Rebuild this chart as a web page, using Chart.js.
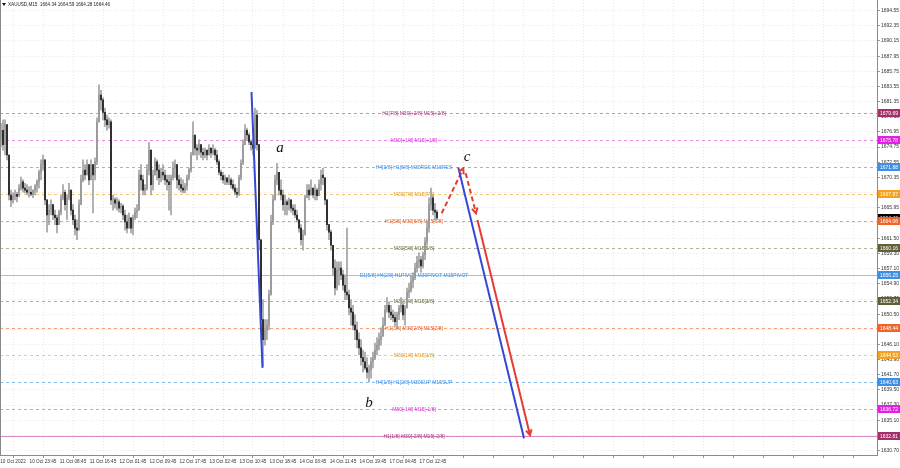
<!DOCTYPE html>
<html>
<head>
<meta charset="utf-8">
<script src="https://cdn.jsdelivr.net/npm/chart.js@4.4.0/dist/chart.umd.min.js"></script>
<style>
  html, body { margin: 0; padding: 0; background: #fff; }
  #wrap { width: 900px; height: 468px; }
</style>
</head>
<body>
<div id="wrap"><canvas id="graph" width="900" height="468"></canvas></div>
<script>
// XAUUSD M15 - price, one slot = about two M15 bars
const highs = [
  1678.2,1678.7,1678.7,1678.0,1673.6,1668.5,1668.1,1668.5,1668.2,1669.3,
  1670.4,1670.0,1669.5,1669.3,1669.0,1669.1,1668.5,1669.3,1670.0,1671.4,
  1672.9,1673.6,1672.9,1667.1,1666.4,1667.1,1666.4,1665.6,1664.9,1665.6,
  1667.8,1669.3,1668.5,1667.8,1669.5,1668.5,1666.4,1664.9,1664.2,1667.1,
  1670.7,1672.9,1672.2,1672.9,1672.2,1672.9,1672.2,1673.2,1679.0,1683.8,
  1683.0,1681.9,1680.4,1679.4,1679.0,1678.7,1667.8,1667.4,1667.4,1667.1,
  1666.6,1666.4,1665.6,1664.9,1665.2,1664.5,1664.9,1665.9,1666.4,1671.4,
  1672.2,1670.7,1669.3,1672.2,1675.4,1674.3,1671.4,1673.2,1672.9,1672.2,
  1671.7,1672.2,1671.4,1670.7,1670.7,1670.7,1672.6,1672.9,1672.2,1670.7,
  1670.3,1670.0,1669.5,1670.7,1671.7,1674.0,1678.4,1676.5,1675.1,1675.8,
  1675.1,1674.6,1674.6,1674.3,1675.1,1674.6,1675.1,1674.6,1674.3,1672.9,
  1671.4,1671.1,1670.7,1670.3,1670.7,1670.3,1670.0,1669.3,1668.8,1670.7,
  1672.9,1675.8,1678.0,1677.5,1676.8,1675.8,1675.8,1680.4,1680.1,1675.1,
  1661.3,1652.6,1649.7,1649.7,1654.0,1664.9,1667.8,1670.7,1672.4,1671.1,
  1670.0,1668.5,1667.8,1667.1,1667.4,1667.1,1666.4,1666.4,1665.6,1664.2,
  1663.5,1662.7,1667.8,1669.3,1669.3,1670.0,1668.8,1669.3,1668.8,1670.0,
  1671.4,1671.7,1670.3,1667.1,1663.5,1662.7,1660.5,1658.4,1658.1,1658.1,
  1658.1,1656.9,1656.2,1663.0,1654.0,1652.6,1651.8,1650.4,1649.4,1647.8,
  1646.8,1645.3,1645.0,1644.2,1643.1,1644.2,1645.0,1646.3,1647.1,1647.8,
  1648.5,1650.0,1651.8,1652.9,1652.3,1651.8,1651.1,1650.8,1650.8,1651.8,
  1652.9,1652.1,1651.8,1654.3,1655.0,1656.1,1656.5,1657.9,1658.9,1659.4,
  1658.9,1659.5,1661.6,1663.9,1667.4,1668.8,1667.8,1666.6,1665.6
];
const lows = [
  1674.8,1674.3,1673.6,1672.9,1667.1,1666.1,1666.6,1667.1,1666.8,1667.7,
  1668.5,1668.2,1668.1,1667.8,1667.5,1667.7,1667.4,1667.8,1668.2,1668.8,
  1670.0,1671.4,1666.4,1662.4,1663.5,1664.9,1664.2,1663.5,1662.3,1663.5,
  1664.9,1667.1,1665.6,1664.2,1667.1,1664.9,1663.5,1662.0,1661.3,1663.0,
  1666.4,1669.7,1670.0,1670.7,1669.3,1670.3,1665.2,1670.0,1672.2,1678.4,
  1680.1,1678.7,1677.7,1677.2,1677.5,1666.4,1665.6,1665.9,1665.6,1665.3,
  1665.2,1664.2,1662.7,1662.3,1663.0,1662.3,1662.0,1664.2,1664.5,1665.6,
  1668.5,1667.8,1667.8,1668.5,1670.7,1667.8,1668.5,1670.7,1670.0,1669.3,
  1669.7,1670.0,1669.3,1668.5,1665.6,1664.9,1670.0,1670.3,1668.8,1668.5,
  1668.2,1668.1,1668.1,1668.5,1670.0,1671.1,1673.6,1673.6,1672.9,1673.6,
  1673.2,1672.9,1673.2,1672.9,1673.6,1673.2,1673.6,1672.9,1672.2,1670.7,
  1670.0,1669.5,1669.3,1669.3,1669.3,1668.8,1668.5,1667.8,1667.4,1667.7,
  1670.0,1672.2,1675.1,1675.8,1675.1,1674.3,1673.6,1674.6,1674.3,1659.8,
  1648.2,1642.9,1646.0,1646.8,1648.2,1653.3,1663.5,1667.1,1669.3,1667.8,
  1667.1,1665.6,1664.9,1664.9,1665.6,1665.3,1664.9,1664.5,1663.9,1662.4,
  1660.5,1659.8,1662.0,1667.4,1667.1,1667.8,1667.4,1667.1,1667.1,1667.7,
  1668.5,1669.3,1666.4,1662.7,1661.3,1659.8,1656.2,1653.3,1654.0,1654.7,
  1655.5,1654.0,1652.6,1652.6,1650.4,1648.9,1648.2,1646.8,1645.6,1644.6,
  1643.1,1642.1,1642.4,1641.2,1640.7,1641.2,1642.7,1643.9,1644.6,1645.3,
  1646.0,1647.3,1648.9,1650.8,1650.0,1649.7,1649.4,1648.8,1648.5,1649.7,
  1650.8,1649.7,1648.9,1651.4,1652.9,1653.7,1654.3,1655.5,1656.6,1657.2,
  1656.6,1657.2,1658.4,1660.5,1662.4,1665.6,1664.9,1664.2,1664.2
];
const closes = [
  1677.2,1675.1,1678.0,1673.6,1667.8,1667.1,1667.6,1667.9,1667.6,1668.8,
  1669.7,1668.8,1668.5,1668.2,1668.2,1667.9,1668.5,1669.1,1669.7,1671.1,
  1672.2,1672.9,1667.1,1664.9,1665.6,1666.4,1664.9,1664.5,1663.5,1665.3,
  1667.4,1668.2,1666.4,1667.4,1668.5,1665.6,1664.2,1663.0,1662.7,1666.4,
  1670.0,1671.4,1670.7,1672.2,1670.0,1672.2,1670.7,1672.6,1678.4,1682.3,
  1681.6,1679.8,1678.7,1678.0,1678.4,1667.1,1667.1,1666.6,1666.8,1665.9,
  1666.2,1664.9,1663.9,1663.0,1664.5,1663.0,1664.5,1665.3,1665.6,1670.7,
  1670.0,1668.5,1668.8,1671.4,1674.3,1669.3,1670.7,1672.6,1671.4,1670.3,
  1671.1,1670.7,1670.0,1669.7,1669.3,1670.3,1671.7,1672.2,1670.0,1669.3,
  1668.8,1668.5,1669.1,1670.3,1671.4,1673.6,1676.5,1674.6,1674.3,1675.1,
  1674.0,1673.6,1674.3,1673.6,1674.6,1673.9,1674.3,1673.6,1672.6,1671.1,
  1670.6,1670.0,1670.3,1669.7,1670.0,1669.3,1668.8,1668.2,1667.9,1670.3,
  1672.4,1675.1,1677.2,1676.5,1675.5,1675.1,1674.6,1679.4,1675.1,1661.3,
  1649.7,1646.8,1648.2,1648.9,1653.3,1663.9,1667.1,1670.0,1671.1,1668.5,
  1667.8,1666.4,1666.8,1666.4,1667.1,1665.9,1665.6,1664.9,1664.2,1663.0,
  1661.3,1662.0,1667.4,1668.5,1667.8,1668.8,1667.8,1668.5,1667.7,1669.4,
  1670.7,1670.3,1667.1,1663.5,1662.4,1660.5,1657.2,1654.3,1656.9,1657.2,
  1656.2,1654.7,1653.7,1653.3,1651.4,1650.8,1648.9,1648.2,1646.8,1645.6,
  1644.2,1643.6,1642.7,1642.1,1642.4,1643.6,1644.2,1645.3,1646.0,1646.8,
  1647.3,1648.9,1651.1,1651.8,1650.8,1650.4,1650.0,1649.4,1650.4,1651.4,
  1651.8,1650.4,1651.4,1653.7,1654.0,1655.2,1655.8,1657.2,1658.1,1658.4,
  1657.5,1659.1,1661.0,1663.0,1666.4,1667.4,1665.6,1665.3,1664.46
];
const firstOpen = 1676.0;
const opens = [firstOpen].concat(closes.slice(0, -1));

// murrey levels
const levelValues = [1679.69, 1675.78, 1671.88, 1667.97, 1664.06, 1660.16, 1656.25,
                     1652.34, 1648.44, 1644.53, 1640.63, 1636.72, 1632.81];
const levelLabels = [
  'H1[7/8] M30[+2/8] M15[+2/8]',
  'M30[+1/8] M15[+1/8]',
  'H4[3/8] H1[6/8] M30RES M15RES',
  'M30[7/8] M15[7/8]',
  'H1[5/8] M30[6/8] M15[6/8]',
  'M30[5/8] M15[5/8]',
  'D1[5/8] H4[2/8] H1PIVOT M30PIVOT M15PIVOT',
  'M30[3/8] M15[3/8]',
  'H1[3/8] M30[2/8] M15[2/8]',
  'M30[1/8] M15[1/8]',
  'H4[1/8] H1[2/8] M30SUP M15SUP',
  'M30[-1/8] M15[-1/8]',
  'H1[1/8] M30[-2/8] M15[-2/8]'
];
const bidPrice = 1664.46;
const titleText = 'XAUUSD,M15  1664.34 1664.59 1664.28 1664.46';

const priceTicks = [1694.55, 1692.35, 1690.15, 1687.95, 1685.75, 1683.55, 1681.35, 1679.15,
  1676.95, 1674.75, 1672.55, 1670.35, 1668.15, 1665.95, 1663.75, 1661.50, 1659.30, 1657.10,
  1654.90, 1652.70, 1650.50, 1648.30, 1646.10, 1643.90, 1641.70, 1639.50, 1637.30, 1635.10,
  1632.90, 1630.70];
const timeLabels = ['10 Oct 2022', '10 Oct 23:45', '11 Oct 08:45', '11 Oct 16:45', '12 Oct 01:45',
  '12 Oct 09:45', '12 Oct 17:45', '13 Oct 02:45', '13 Oct 10:45', '13 Oct 18:45', '14 Oct 03:45',
  '14 Oct 11:45', '14 Oct 19:45', '17 Oct 04:45', '17 Oct 12:45'];
const timeTickBars = [6, 21, 36, 51, 66, 81, 96, 111, 126, 141, 156, 171, 186, 201, 216,
  231, 246, 261, 276, 291, 306, 321, 336, 351, 366, 381, 396, 411, 426];

// hand drawn wave lines (bar slot, price)
const waveA = [{x: 125.25, y: 1682.75}, {x: 130.75, y: 1642.7}];
const legUp = [{x: 220.35, y: 1665.14}, {x: 231.15, y: 1671.67}];
const legDown = [{x: 232.35, y: 1670.95}, {x: 237.5, y: 1665.14}];
const targetBlue = [{x: 228.65, y: 1671.8}, {x: 261.5, y: 1632.5}];
const targetRed = [{x: 238.25, y: 1664.17}, {x: 264.5, y: 1632.96}];
const waveLetters = [
  {t: 'a', x: 139.5, y: 1674.6},
  {t: 'b', x: 184, y: 1637.6},
  {t: 'c', x: 233, y: 1673.3}
];
const labelBar = 206.5;

const FONT = '"Liberation Sans", Arial, sans-serif';
const levelStyle = [
  {line: '#d688c0', text: '#a8347f', box: '#a3306c', dash: [3, 3]},
  {line: '#e58ae5', text: '#d62ad6', box: '#e21fe2', dash: [3, 3]},
  {line: '#86bbec', text: '#3a8fe0', box: '#3d8fe6', dash: [3, 3]},
  {line: '#f2c77c', text: '#e59a1c', box: '#f4a11e', dash: [3, 3]},
  {line: '#f2a07a', text: '#e2622a', box: '#ef6428', dash: [3, 3]},
  {line: '#b4b494', text: '#6c6c44', box: '#5f5f39', dash: [3, 3]},
  {line: '#94c4ee', text: '#3a8fe0', box: '#3d8fe6', dash: []},
  {line: '#b4b494', text: '#6c6c44', box: '#5f5f39', dash: [3, 3]},
  {line: '#f2a07a', text: '#e2622a', box: '#ef6428', dash: [3, 3]},
  {line: '#f2c77c', text: '#e59a1c', box: '#f4a11e', dash: [3, 3]},
  {line: '#86bbec', text: '#3a8fe0', box: '#3d8fe6', dash: [3, 3]},
  {line: '#e58ae5', text: '#d62ad6', box: '#e21fe2', dash: [3, 3]},
  {line: '#d98ac0', text: '#a8347f', box: '#a3306c', dash: []}
];

const levelPlugin = {
  id: 'levels',
  beforeDatasetsDraw(chart) {
    const {ctx, chartArea: a, scales: {x, y}} = chart;
    ctx.save();
    levelValues.forEach((v, i) => {
      const st = levelStyle[i];
      const py = Math.round(y.getPixelForValue(v)) + 0.5;
      ctx.strokeStyle = st.line;
      ctx.lineWidth = 1;
      ctx.setLineDash(st.dash);
      ctx.beginPath();
      ctx.moveTo(a.left, py);
      ctx.lineTo(a.right, py);
      ctx.stroke();
      ctx.setLineDash([]);
      ctx.fillStyle = st.text;
      ctx.font = '5px ' + FONT;
      ctx.textAlign = 'center';
      ctx.textBaseline = 'middle';
      ctx.fillText(levelLabels[i], x.getPixelForValue(labelBar), py);
    });
    ctx.restore();
  },
  afterDatasetsDraw(chart) {
    const {ctx} = chart;
    // arrow heads
    chart.data.datasets.forEach((ds, di) => {
      if (!ds.arrow) return;
      const pts = chart.getDatasetMeta(di).data;
      const p1 = pts[pts.length - 2], p2 = pts[pts.length - 1];
      const ang = Math.atan2(p2.y - p1.y, p2.x - p1.x);
      ctx.save();
      ctx.strokeStyle = ds.borderColor;
      ctx.lineWidth = 2;
      ctx.beginPath();
      ctx.moveTo(p2.x - 6 * Math.cos(ang - 0.5), p2.y - 6 * Math.sin(ang - 0.5));
      ctx.lineTo(p2.x, p2.y);
      ctx.lineTo(p2.x - 6 * Math.cos(ang + 0.5), p2.y - 6 * Math.sin(ang + 0.5));
      ctx.stroke();
      ctx.restore();
    });
  },
  afterDraw(chart) {
    const {ctx, chartArea: a, scales: {x, y}} = chart;
    ctx.save();
    // left frame
    ctx.strokeStyle = '#8a8a8a';
    ctx.lineWidth = 1;
    ctx.beginPath();
    ctx.moveTo(a.left + 0.5, a.top);
    ctx.lineTo(a.left + 0.5, a.bottom);
    ctx.stroke();

    // price boxes on the axis
    const box = (v, color) => {
      const py = Math.round(y.getPixelForValue(v));
      ctx.fillStyle = color;
      ctx.fillRect(a.right + 1, py - 4, 22, 8);
      ctx.fillStyle = '#fff';
      ctx.font = '5px ' + FONT;
      ctx.textAlign = 'left';
      ctx.textBaseline = 'middle';
      ctx.fillText(v.toFixed(2), a.right + 3, py + 0.5);
    };
    levelValues.forEach((v, i) => { if (i < 4) box(v, levelStyle[i].box); });
    box(bidPrice, '#000');
    levelValues.forEach((v, i) => { if (i >= 4) box(v, levelStyle[i].box); });

    // wave letters
    ctx.fillStyle = '#111';
    ctx.font = 'italic 15px "Liberation Serif", "DejaVu Serif", serif';
    ctx.textAlign = 'center';
    ctx.textBaseline = 'middle';
    waveLetters.forEach(l => ctx.fillText(l.t, x.getPixelForValue(l.x), y.getPixelForValue(l.y)));

    // title
    ctx.fillStyle = '#111';
    ctx.beginPath();
    ctx.moveTo(2, 3); ctx.lineTo(6, 3); ctx.lineTo(4, 6); ctx.closePath();
    ctx.fill();
    ctx.fillStyle = '#222';
    ctx.font = '4.6px ' + FONT;
    ctx.textAlign = 'left';
    ctx.textBaseline = 'middle';
    ctx.fillText(titleText, 8, 5);
    ctx.restore();
  }
};

const lineDs = (data, color, dash, arrow) => ({
  type: 'line', data, borderColor: color, borderWidth: 2, borderDash: dash,
  pointRadius: 0, fill: false, arrow, order: 0
});

const ctx = document.getElementById('graph').getContext('2d');
const myChart = new Chart(ctx, {
  type: 'bar',
  data: {
    datasets: [
      lineDs(waveA, '#3348d6', [], false),
      lineDs(targetBlue, '#3348d6', [], false),
      lineDs(targetRed, '#e43b33', [], true),
      lineDs(legUp, '#e43b33', [5, 3], true),
      lineDs(legDown, '#e43b33', [5, 3], true),
      {
        label: 'bodies',
        data: closes.map((c, i) => ({x: i, y: [opens[i], c]})),
        backgroundColor: c => (closes[c.dataIndex] >= opens[c.dataIndex] ? '#9c9c9c' : '#2e2e2e'),
        barThickness: 1.3,
        grouped: false,
        order: 2
      },
      {
        label: 'wicks',
        data: highs.map((h, i) => ({x: i, y: [lows[i], h]})),
        backgroundColor: '#a2a2a2',
        barThickness: 1,
        grouped: false,
        order: 3
      }
    ]
  },
  options: {
    responsive: false,
    animation: false,
    layout: { padding: 0 },
    plugins: { legend: { display: false }, tooltip: { enabled: false } },
    scales: {
      x: {
        type: 'linear',
        offset: false,
        min: -0.5,
        max: 438,
        afterBuildTicks: s => { s.ticks = timeTickBars.map(v => ({value: v})); },
        afterFit: s => { s.height = 13; s.paddingLeft = 0; s.paddingRight = 0; },
        ticks: {
          callback: (v, i) => timeLabels[i] || '',
          font: { size: 4.7, family: FONT },
          color: '#333',
          maxRotation: 0,
          autoSkip: false,
          padding: 1
        },
        grid: { offset: false, color: '#e8e8e8', tickLength: 3, tickColor: '#999' },
        border: { color: '#8a8a8a', dash: [1, 2] }
      },
      y: {
        type: 'linear',
        position: 'right',
        min: 1630.06,
        max: 1696.1,
        afterBuildTicks: s => { s.ticks = priceTicks.map(v => ({value: v})); },
        afterFit: s => { s.width = 23; s.paddingTop = 0; s.paddingBottom = 0; },
        ticks: {
          callback: v => v.toFixed(2),
          font: { size: 5, family: FONT },
          color: '#333',
          padding: 1
        },
        grid: { color: '#e8e8e8', tickLength: 3, tickColor: '#999' },
        border: { color: '#8a8a8a', dash: [1, 2] }
      }
    }
  },
  plugins: [levelPlugin]
});
</script>
</body>
</html>
